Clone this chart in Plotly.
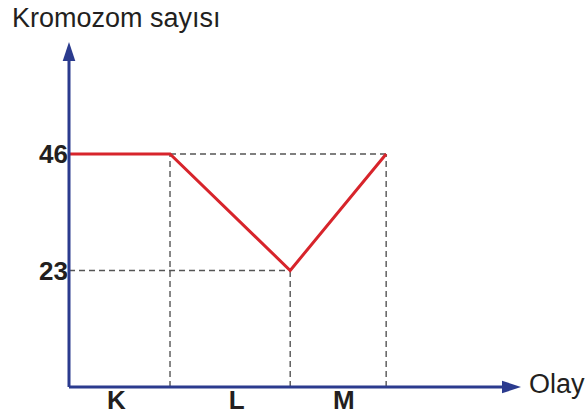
import plotly.graph_objects as go

# Stages of the event axis and chromosome counts at each stage boundary
olaylar = ["K", "L", "M"]
olay_sinirlari = [0.0, 1.0, 2.19, 3.14]
kromozom_sayisi = [46, 46, 23, 46]
etiket_konumlari = [0.47, 1.66, 2.72]
y_etiketleri = [23, 46]

MAVI = "#2b3b8e"
KIRMIZI = "#d7242b"
GRI = "#555555"
YAZI = "#231f20"
FONT = "Arial, Liberation Sans, sans-serif"

fig = go.Figure()

kesik = dict(color=GRI, width=1.4, dash="6px,4px")

# dashed guide lines from each boundary point down to the axis
x_start = olay_sinirlari[0]
for i in range(1, len(olay_sinirlari)):
    xb = olay_sinirlari[i]
    yb = kromozom_sayisi[i]
    fig.add_trace(go.Scatter(x=[xb, xb], y=[0, yb], mode="lines", line=kesik,
                             hoverinfo="skip", showlegend=False))
# horizontal guide at the maximum from the end of K to the end of M
fig.add_trace(go.Scatter(x=[olay_sinirlari[1], olay_sinirlari[3]],
                         y=[kromozom_sayisi[1], kromozom_sayisi[3]], mode="lines",
                         line=kesik, hoverinfo="skip", showlegend=False))
# horizontal guide at the minimum from the vertical axis
fig.add_trace(go.Scatter(x=[x_start, olay_sinirlari[2]],
                         y=[kromozom_sayisi[2], kromozom_sayisi[2]], mode="lines",
                         line=kesik, hoverinfo="skip", showlegend=False))

# chromosome number curve
fig.add_trace(go.Scatter(x=olay_sinirlari, y=kromozom_sayisi, mode="lines",
                         line=dict(color=KIRMIZI, width=3),
                         hoverinfo="skip", showlegend=False))

# axis lines with arrowheads (domain refs so they are not clipped)
fig.add_shape(type="line", xref="x domain", yref="y domain", x0=0, x1=0.97, y0=0, y1=0,
              line=dict(color=MAVI, width=3))
fig.add_shape(type="line", xref="x domain", yref="y domain", x0=0, x1=0, y0=0, y1=0.97,
              line=dict(color=MAVI, width=3))
fig.add_shape(type="path", xref="x domain", yref="y domain",
              xsizemode="pixel", ysizemode="pixel", xanchor=1, yanchor=0,
              path="M0,0 L-19,6.3 L-19,-6.3 Z",
              fillcolor=MAVI, line=dict(color=MAVI, width=0))
fig.add_shape(type="path", xref="x domain", yref="y domain",
              xsizemode="pixel", ysizemode="pixel", xanchor=0, yanchor=1,
              path="M0,0 L6.3,-19 L-6.3,-19 Z",
              fillcolor=MAVI, line=dict(color=MAVI, width=0))

fig.add_annotation(text="Kromozom sayısı", xref="paper", yref="paper",
                   x=(10 - 69) / 452, y=(387 - 18) / 345,
                   xanchor="left", yanchor="middle", showarrow=False,
                   font=dict(family=FONT, size=27, color=YAZI))
fig.add_annotation(text="Olay", xref="paper", yref="paper",
                   x=(527 - 69) / 452, y=(387 - 384) / 345,
                   xanchor="left", yanchor="middle", showarrow=False,
                   font=dict(family=FONT, size=27, color=YAZI))

fig.update_layout(
    width=586, height=416,
    margin=dict(l=69, r=65, t=42, b=29, autoexpand=False),
    paper_bgcolor="white", plot_bgcolor="white",
    font=dict(family=FONT, color=YAZI),
    xaxis=dict(range=[0, 4.475], showgrid=False, zeroline=False, showline=False,
               automargin=False,
               tickvals=etiket_konumlari, ticktext=[f"<b>{t}</b>" for t in olaylar],
               ticks="", ticklabelstandoff=-5,
               tickfont=dict(family=FONT, size=26, color=YAZI)),
    yaxis=dict(range=[0, 68.1], showgrid=False, zeroline=False, showline=False,
               automargin=False,
               tickvals=y_etiketleri, ticktext=[f"<b>{v}</b>" for v in y_etiketleri],
               ticks="", tickfont=dict(family=FONT, size=26, color=YAZI)),
)

fig.write_html("out.html")
